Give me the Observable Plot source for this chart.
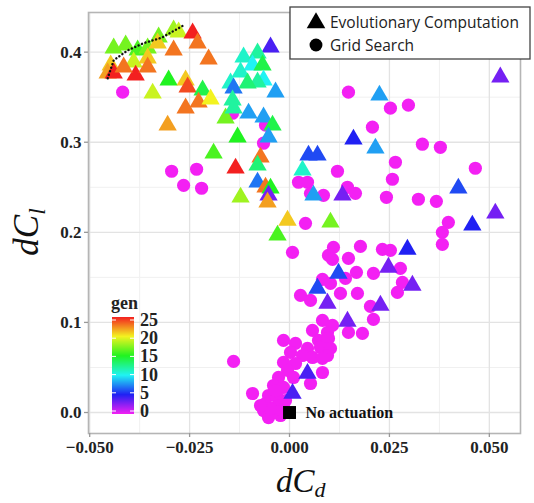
<!DOCTYPE html>
<html><head><meta charset="utf-8">
<script src="https://cdn.jsdelivr.net/npm/d3@7"></script>
<script src="https://cdn.jsdelivr.net/npm/@observablehq/plot@0.6"></script>
<style>
body{margin:0;background:#fff;}
#chart{position:relative;width:534px;height:503px;}
</style>
</head><body><div id="chart"></div>
<script>
// ---- Evolutionary Computation (triangles, coloured by gen)
const ecDCd = [-0.044,-0.041,-0.038,-0.0355,-0.03275,-0.029,-0.02775,-0.039,-0.04475,-0.033,-0.0355,-0.0455,-0.02425,-0.044,-0.0385,-0.0415,-0.029,-0.023,-0.02025,-0.0355,-0.03025,-0.026,-0.0255,-0.02175,-0.03425,-0.02275,-0.026,-0.01975,-0.0305,-0.016,-0.013,-0.019,-0.0135,-0.01225,-0.00475,-0.0115,-0.008,-0.00925,-0.01225,-0.00675,-0.0065,-0.008,-0.0105,-0.01475,-0.014,-0.01425,-0.014,-0.0035,-0.01025,-0.0065,-0.00425,-0.00525,-0.00725,-0.008,-0.008,-0.006,-0.00475,-0.00525,-0.0055,0.00475,0.007,0.00325,0.006,0.01325,-0.0005,0.01025,-0.003,0.0225,0.016,0.0215,0.04225,0.05275,0.0515,0.04575,0.0295,0.02475,0.01225,0.007,0.03075,0.0095,0.02275,0.0145,0.0045,0.00075];
const ecDCl = [0.4044,0.4078,0.4022,0.4044,0.4167,0.4244,0.4222,0.3889,0.3856,0.41,0.3933,0.3767,0.4211,0.3767,0.3744,0.3833,0.4022,0.41,0.3922,0.3833,0.3689,0.3689,0.3611,0.3578,0.3544,0.3444,0.3378,0.3478,0.3189,0.3267,0.3056,0.2878,0.2711,0.2389,0.4056,0.3944,0.3989,0.3856,0.3778,0.3856,0.3689,0.3667,0.3656,0.3656,0.36,0.3467,0.3378,0.3556,0.3322,0.3278,0.3189,0.3056,0.2833,0.2744,0.2556,0.25,0.2489,0.2411,0.2333,0.2856,0.2856,0.2689,0.2411,0.2411,0.2133,0.2111,0.1967,0.3522,0.3033,0.2933,0.2489,0.3722,0.2211,0.2078,0.1811,0.1611,0.1544,0.1378,0.1411,0.1211,0.1189,0.1011,0.0433,0.0211];
const ecGen = [17,17,16,17,17,18,19,19,21,21,21,22,25,25,25,23,23,23,23,23,15,21,24,14,19,23,23,20,22,17,15,16,25,18,4,11,12,10,11,14,10,12,13,11,7,12,12,8,8,8,14,8,23,13,7,23,15,3,22,6,6,11,8,3,21,17,16,8,5,8,6,3,3,5,5,3,6,6,3,3,3,3,4,4];

// ---- Grid Search (circles)
const gsDCd = [-0.04175,-0.0295,-0.02325,-0.0265,-0.022,-0.01425,-0.006,-0.0065,0.00225,0.0045,0.00525,0.0085,0.004,0.00075,0.00975,0.01475,0.02525,0.02975,0.02075,0.03325,0.03775,0.0265,0.0465,0.012,0.02575,0.0145,0.0165,0.02425,0.03225,0.03675,0.03975,0.03825,0.03825,0.011,0.01775,0.02325,0.02525,0.01075,0.01475,0.02775,0.01675,0.021,0.00825,0.01025,0.014,0.02825,0.027,0.00275,0.00525,0.01275,0.017,0.02025,0.021,0.00825,0.01075,0.00575,0.0095,0.01475,0.01825,-0.0015,0.0015,0.0045,0.00725,0.00975,0.00775,0.01025,0.00025,0.00325,0.0095,-0.0015,0.0015,0.00575,0.00825,-0.0005,-0.00275,0.001,0.00825,0.00525,-0.004,-0.0015,-0.00925,-0.00525,-0.003,-0.006,-0.003,-0.0065,-0.004,-0.00525,-0.00225,-0.014,-0.001,-0.00475,-0.00175,-0.00725,-0.0035];
const gsDCl = [0.3556,0.2678,0.27,0.2522,0.2489,0.3322,0.3189,0.2989,0.2556,0.2556,0.2433,0.2411,0.21,0.1778,0.1744,0.3556,0.3378,0.3411,0.3167,0.2978,0.2944,0.2778,0.2711,0.2678,0.2589,0.25,0.2433,0.2389,0.2367,0.2344,0.2111,0.2,0.1867,0.1833,0.1844,0.1811,0.18,0.17,0.1711,0.16,0.1556,0.1544,0.1478,0.1433,0.1489,0.1444,0.1333,0.13,0.1244,0.1322,0.1322,0.1178,0.1033,0.1022,0.0967,0.0911,0.0889,0.0889,0.0878,0.08,0.0767,0.0711,0.08,0.0822,0.0722,0.0711,0.0667,0.0633,0.0633,0.0556,0.0544,0.0611,0.06,0.0467,0.0389,0.0389,0.0444,0.0322,0.03,0.0278,0.0211,0.0189,0.0167,0.01,0.0078,0.0022,0,-0.0056,-0.0033,0.0567,0.0133,0.0044,0.0022,0.0078,0.0244];
const gsGen = 0;

// ---- Pareto front (dotted line)
const frontDCd = [-0.0455,-0.044,-0.0405,-0.0365,-0.032,-0.0268];
const frontDCl = [0.371,0.391,0.402,0.410,0.416,0.429];

// ---- Reference point, ticks, names
const refDCd = [0];
const refDCl = [0];
const refLabel = ["No actuation"];
const xTicks = [-0.05,-0.025,0,0.025,0.05];
const yTicks = [0,0.1,0.2,0.3,0.4];
const genTicks = [0,5,10,15,20,25];
const seriesNames = ["Evolutionary Computation","Grid Search"];
const genTitle = "gen";

const ec = ecDCd.map((x,i)=>({x, y:ecDCl[i], gen:ecGen[i]}));
const gs = gsDCd.map((x,i)=>({x, y:gsDCl[i], gen:gsGen}));
const front = frontDCd.map((x,i)=>({x, y:frontDCl[i]}));
const ref = refDCd.map((x,i)=>({x, y:refDCl[i], label:refLabel[i]}));
const minorX = xTicks.slice(1).map((v,i)=>(v+xTicks[i])/2);
const minorY = yTicks.slice(1).map((v,i)=>(v+yTicks[i])/2);

const genColor = t => d3.hsl(300*(1-t), 0.9, 0.54).formatHex();
const serif = "'Liberation Serif','Times New Roman',serif";

const plot = Plot.plot({
  width:534, height:503,
  marginLeft:88, marginRight:14, marginTop:12, marginBottom:70,
  x:{domain:[-0.0503,0.0578]},
  y:{domain:[-0.0233,0.444]},
  color:{type:"linear", domain:[0,25], interpolate:genColor},
  style:{fontFamily:serif, fontSize:"17px", fontWeight:"bold", color:"#222", background:"#fff"},
  marks:[
    Plot.gridX(minorX,{stroke:"#f0f0f0", strokeOpacity:1, strokeWidth:1}),
    Plot.gridY(minorY,{stroke:"#f0f0f0", strokeOpacity:1, strokeWidth:1}),
    Plot.gridX(xTicks,{stroke:"#e3e3e3", strokeOpacity:1, strokeWidth:1.3}),
    Plot.gridY(yTicks,{stroke:"#e3e3e3", strokeOpacity:1, strokeWidth:1.3}),
    Plot.frame({stroke:"#b5b5b5", strokeWidth:1.6}),
    Plot.axisX(xTicks,{tickSize:4, tickPadding:3, stroke:"#999", strokeWidth:1.3, tickFormat:d3.format(".3f"), label:null, fontSize:17, fontWeight:"bold", fill:"#222"}),
    Plot.axisY(yTicks,{tickSize:4, tickPadding:3, stroke:"#999", strokeWidth:1.3, tickFormat:d3.format(".1f"), label:null, fontSize:17, fontWeight:"bold", fill:"#222"}),
    Plot.dot(gs,{x:"x", y:"y", r:6.6, fill:"gen", symbol:"circle"}),
    Plot.dot(ec,{x:"x", y:"y", r:6.8, fill:"gen", symbol:"triangle"}),
    Plot.line(front,{x:"x", y:"y", stroke:"#111", strokeWidth:2.4, strokeDasharray:"0.1,3.6", strokeLinecap:"round"}),
    Plot.dot(ref,{x:"x", y:"y", r:7.3, fill:"#000", symbol:"square"}),
    Plot.text(ref,{x:"x", y:"y", text:"label", dx:16, textAnchor:"start", fontSize:16, fontWeight:"bold", fill:"#111"})
  ]
});
document.getElementById("chart").appendChild(plot);

const svg = d3.select(plot);
// axis titles
const yt = svg.append("text").attr("transform","translate(38,232) rotate(-90)")
  .attr("text-anchor","middle").attr("font-family",serif).attr("font-style","italic")
  .attr("font-weight","normal").attr("font-size",35).attr("fill","#111");
yt.append("tspan").text("dC");
yt.append("tspan").attr("font-size",23).attr("dy",7).text("l");
const xt = svg.append("text").attr("x",276).attr("y",492)
  .attr("text-anchor","start").attr("font-family",serif).attr("font-style","italic")
  .attr("font-weight","normal").attr("font-size",33).attr("fill","#111");
xt.append("tspan").text("dC");
xt.append("tspan").attr("font-size",22).attr("dy",5).text("d");

// symbol legend (top right)
const lg = svg.append("g");
lg.append("rect").attr("x",290).attr("y",7).attr("width",240).attr("height",52)
  .attr("fill","#fff").attr("stroke","#444").attr("stroke-width",1.3);
const syms = [d3.symbolTriangle, d3.symbolCircle];
seriesNames.forEach((name,i)=>{
  const cy = 22 + i*23;
  lg.append("path").attr("d", d3.symbol(syms[i], i===0?150:130)())
    .attr("transform",`translate(316,${cy+(i===0?1:0)})`).attr("fill","#000");
  lg.append("text").attr("x",330).attr("y",cy+6).attr("text-anchor","start")
    .attr("font-family","'Open Sans',Lato,sans-serif")
    .attr("font-weight","normal").attr("font-size",15.5).attr("fill","#222").text(name);
});

// color legend (gen)
const cl = svg.append("g");
const gy = d3.scaleLinear([0,25],[411,320]);
const grad = svg.append("defs").append("linearGradient").attr("id","genGrad")
  .attr("x1",0).attr("x2",0).attr("y1",1).attr("y2",0);
d3.range(0,1.0001,0.05).forEach(t=>grad.append("stop").attr("offset",t).attr("stop-color",genColor(t)));
cl.append("text").attr("x",111).attr("y",309).attr("text-anchor","start").attr("font-family",serif).attr("font-weight","bold")
  .attr("font-size",18).attr("fill","#222").text(genTitle);
cl.append("rect").attr("x",112).attr("y",gy(25)-3).attr("width",22).attr("height",gy(0)-gy(25)+6)
  .attr("fill","url(#genGrad)");
genTicks.forEach(v=>{
  cl.append("line").attr("x1",112).attr("x2",116).attr("y1",gy(v)).attr("y2",gy(v)).attr("stroke","#fff").attr("stroke-width",1);
  cl.append("line").attr("x1",130).attr("x2",134).attr("y1",gy(v)).attr("y2",gy(v)).attr("stroke","#fff").attr("stroke-width",1);
  cl.append("text").attr("x",140).attr("y",gy(v)+6).attr("text-anchor","start").attr("font-family",serif).attr("font-weight","bold")
    .attr("font-size",18).attr("fill","#222").text(v);
});
</script>
</body></html>
